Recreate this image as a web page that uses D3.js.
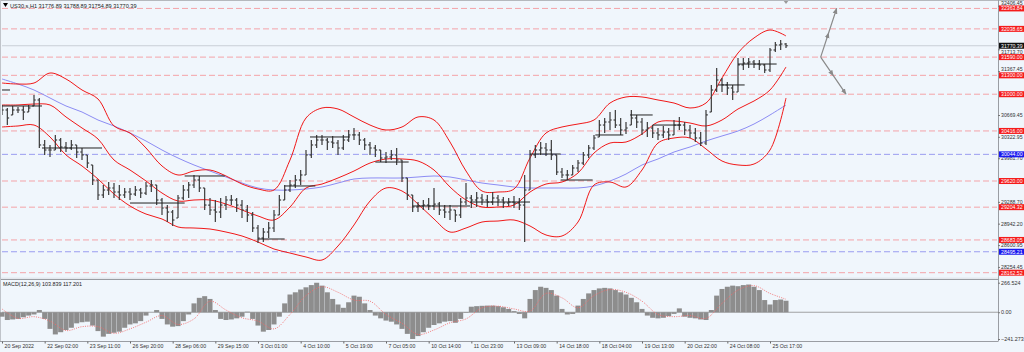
<!DOCTYPE html>
<html>
<head>
<meta charset="utf-8">
<script src="https://cdn.jsdelivr.net/npm/d3@7"></script>
<style>
body { margin: 0; background: #f0f6fc; }
svg { display: block; font-family: "Liberation Sans", Arial, sans-serif; }
</style>
</head>
<body>
<div id="chart"></div>
<script>
// US30 H1 bars, one sample every 4 bars
const highs = [
30829,30781,30813,30797,30813,30829,30988,30940,30272,30193,
30352,30304,30240,30272,30193,30145,30034,29875,29636,29557,
29604,29588,29557,29509,29509,29541,29509,29604,29636,29557,
29350,29238,29159,29398,29557,29604,29716,29700,29509,29350,
29318,29350,29382,29398,29350,29318,29238,29127,28921,28873,
28968,29159,29398,29557,29636,29716,29795,30113,30272,30352,
30352,30304,30336,30272,30352,30431,30463,30399,30304,30240,
30193,30113,30081,30113,30145,29954,29668,29398,29286,29318,
29350,29509,29286,29238,29238,29159,29350,29588,29398,29445,
29413,29398,29445,29398,29366,29350,29382,29350,29716,30113,
30193,30240,30224,30272,30034,29827,29795,29875,29954,30081,
30193,30352,30590,30622,30717,30749,30622,30558,30749,30670,
30622,30558,30510,30463,30495,30463,30590,30638,30558,30510,
30463,30399,30749,31147,31417,31258,31194,31147,31576,31576,
31576,31544,31544,31480,31735,31830,31862,31814];
const lows = [
30670,30510,30670,30701,30590,30717,30813,30145,30034,30002,
30113,30081,30081,30113,29986,29954,29827,29557,29318,29350,
29398,29350,29318,29350,29318,29382,29350,29398,29445,29238,
29080,28968,28905,29032,29318,29350,29509,29445,29159,29080,
28968,29032,29159,29238,29127,29032,28968,28809,28634,28650,
28714,28809,29080,29318,29445,29509,29557,29716,29986,30145,
30193,30113,30145,30034,30113,30240,30272,30193,30113,30034,
30002,29922,29906,29954,29875,29604,29318,29127,29127,29159,
29159,29159,29080,29032,29000,28968,29032,29238,29191,29207,
29238,29207,29238,29223,29191,29223,29191,29159,28650,29477,
29986,30034,30018,29954,29716,29668,29636,29716,29763,29875,
29986,30113,30320,30383,30431,30463,30352,30367,30510,30463,
30352,30320,30304,30272,30304,30272,30352,30431,30352,30304,
30240,30177,30193,30717,31035,31035,30988,30908,31035,31385,
31417,31417,31385,31337,31353,31671,31703,31735];
const closes = [
30749,30622,30749,30749,30717,30781,30908,30193,30113,30113,
30272,30161,30145,30193,30081,30034,29906,29636,29398,29477,
29509,29445,29398,29445,29413,29477,29429,29541,29557,29318,
29191,29127,29000,29350,29477,29557,29636,29509,29238,29159,
29127,29238,29318,29318,29238,29159,29080,28873,28714,28809,
28873,29080,29318,29477,29557,29636,29716,30034,30193,30272,
30272,30240,30224,30145,30272,30352,30352,30272,30193,30145,
30113,29986,30002,30034,29954,29668,29398,29207,29223,29238,
29223,29254,29159,29127,29159,29080,29286,29350,29318,29350,
29318,29286,29350,29318,29270,29286,29270,29238,29477,30034,
30113,30145,30113,30034,29763,29716,29716,29827,29906,30034,
30145,30304,30510,30558,30590,30510,30431,30463,30622,30558,
30431,30463,30383,30352,30399,30352,30510,30510,30431,30383,
30304,30224,30670,31067,31226,31147,31099,31035,31465,31496,
31512,31480,31465,31385,31703,31783,31798,31770.39];

// indicator lines, one sample every 12 bars
const bandUpper = [
31178,31162,31178,31337,31242,31067,30924,30495,30383,30145,
29859,29716,29779,29795,29700,29572,29493,29477,29954,30622,
30781,30765,30638,30510,30431,30479,30638,30590,30240,29779,
29461,29445,29493,29986,30383,30479,30526,30590,30860,30956,
30956,30908,30860,30781,30860,31258,31655,31894,32021,31926];
const bandMiddle = [
30829,30829,30844,30829,30638,30463,30288,29954,29795,29620,
29429,29302,29318,29318,29254,29159,29064,29000,29207,29509,
29572,29668,29779,29906,29970,29970,29938,29795,29525,29318,
29207,29207,29238,29445,29572,29604,29747,30065,30224,30240,
30367,30558,30574,30542,30495,30590,30765,30892,31067,31433];
const bandLower = [
30479,30495,30510,30320,30034,29859,29652,29413,29223,29095,
29016,28889,28873,28857,28809,28746,28650,28539,28475,28412,
28364,28587,28921,29302,29509,29461,29254,29016,28809,28873,
28968,28984,29000,28905,28762,28746,28968,29557,29604,29525,
29795,30224,30304,30304,30129,29938,29875,29890,30113,30940];
const maBlue = [
31242,31162,31067,30940,30813,30717,30590,30495,30383,30256,
30113,29986,29875,29779,29684,29588,29509,29477,29477,29493,
29525,29588,29652,29668,29668,29668,29684,29700,29684,29636,
29588,29557,29525,29509,29509,29509,29509,29541,29620,29731,
29875,29970,30081,30161,30256,30336,30415,30526,30670,30829];

const macdHist = [
-40,-70,-65,-60,-45,-30,-20,20,-60,-150,
-200,-180,-160,-140,-100,-90,-85,-120,-170,-220,
-195,-185,-175,-140,-110,-100,-80,-30,0,20,
-60,-110,-130,-125,-80,-20,80,130,145,120,
20,-60,-70,-65,-55,-40,5,-60,-120,-175,
-160,-110,-40,80,160,180,205,225,245,266,
240,180,120,70,40,90,150,140,80,20,
-30,-55,-75,-85,-110,-150,-195,-241,-215,-180,
-140,-115,-100,-85,-80,-95,-60,-5,50,55,
58,60,60,55,45,30,10,-15,-55,120,
200,230,220,200,150,30,-20,-15,60,120,
170,200,215,220,215,200,180,160,130,90,
30,-30,-50,-55,-50,-35,-15,35,-40,-50,
-55,-65,-70,20,150,210,230,240,235,245,
250,230,200,110,70,110,115,103.839];
const macdSignal = [
30,-55,-40,-80,-165,-130,-130,-190,-150,-90,
-30,-110,-60,100,20,-50,-80,-150,-20,150,
230,180,110,100,-20,-100,-200,-160,-95,-60,
40,55,30,10,170,130,40,150,205,180,
100,-20,-40,-30,-55,80,200,240,170,117.201];

const timeLabels = ["20 Sep 2022","22 Sep 02:00","23 Sep 11:00","26 Sep 20:00","28 Sep 06:00",
  "29 Sep 15:00","3 Oct 01:00","4 Oct 10:00","5 Oct 19:00","7 Oct 05:00","10 Oct 14:00",
  "11 Oct 23:00","13 Oct 09:00","14 Oct 18:00","18 Oct 04:00","19 Oct 13:00","20 Oct 22:00",
  "24 Oct 08:00","25 Oct 17:00"];

// grid labels that are not covered by a price tag
const gridPrices = [32406.45,31713.70,31367.45,30669.45,30322.95,29981.70,
  29288.70,28942.20,28600.95,28254.45];
const redLevels = [32363.84,32038.65,31590.00,31300.00,31000.00,30416.00,29620.00,29204.32,28683.05,28162.52];
const blueLevels = [30044.00,28495.21];
const lastPrice = 31770.39;

// short black level segments: start bar, end bar, price
const segments = [[0,6,31067],[0,30,30813],[30,75,30145],[96,137,29270],[137,167,29700],
  [192,212,28698],[212,235,29541],[231,261,30320],[280,305,29922],[308,351,29223],
  [351,396,29286],[396,419,30049],[419,443,29636],[445,466,30352],[471,488,30670],
  [488,509,30510],[537,557,31147],[552,581,31480]];

// projected path: bar, price
const arrowUp = [[614,31590],[626,32363.84]];
const arrowDown = [[614,31590],[633,31000]];

const W = 1024, H = 352;
const left = 2, right = 997, mainTop = 2, mainBottom = 277, macdTop = 280, macdBottom = 341;

const svg = d3.select("#chart").append("svg")
  .attr("width", W).attr("height", H)
  .attr("viewBox", [0, 0, W, H]);

svg.append("rect").attr("width", W).attr("height", H).attr("fill", "#f0f6fc");

const x = d3.scaleLinear().domain([0, 747]).range([left, 998]);
const y = d3.scaleLinear().domain([28094, 32466]).range([mainBottom, mainTop]);
const ym = d3.scaleLinear().domain([-241.273, 266.524]).range([339, 282.7]);

const defs = svg.append("defs");
defs.append("clipPath").attr("id", "clipMain").append("rect")
  .attr("x", left).attr("y", 0).attr("width", right - left).attr("height", mainBottom);
defs.append("marker").attr("id", "arr").attr("viewBox", "0 0 10 10")
  .attr("refX", 9).attr("refY", 5).attr("markerWidth", 5).attr("markerHeight", 5)
  .attr("orient", "auto")
  .append("path").attr("d", "M0,1L10,5L0,9Z").attr("fill", "#8a8a8a");

const main = svg.append("g").attr("clip-path", "url(#clipMain)");

// level lines
main.append("line")
  .attr("x1", left).attr("x2", right).attr("y1", y(lastPrice)).attr("y2", y(lastPrice))
  .attr("stroke", "#c9ced6").attr("stroke-width", 1);

main.selectAll(".red-level").data(redLevels).join("line")
  .attr("x1", left).attr("x2", right)
  .attr("y1", d => y(d)).attr("y2", d => y(d))
  .attr("stroke", "#f4a3a8").attr("stroke-width", 1).attr("stroke-dasharray", "6,3");
main.selectAll(".blue-level").data(blueLevels).join("line")
  .attr("x1", left).attr("x2", right)
  .attr("y1", d => y(d)).attr("y2", d => y(d))
  .attr("stroke", "#9a9cf0").attr("stroke-width", 1).attr("stroke-dasharray", "6,3");

// indicators
const bandLine = d3.line().x((d, k) => x(12 * k)).y(d => y(d)).curve(d3.curveCatmullRom);
main.append("path").attr("d", bandLine(maBlue))
  .attr("fill", "none").attr("stroke", "#8c8cf4").attr("stroke-width", 1);
[bandUpper, bandMiddle, bandLower].forEach(b => {
  main.append("path").attr("d", bandLine(b))
    .attr("fill", "none").attr("stroke", "#f01818").attr("stroke-width", 1);
});

// price bars (open tick at the previous close)
const bars = main.append("g").attr("stroke", "#3a3a3a").attr("stroke-width", 1.2);
highs.forEach((h, i) => {
  const bx = x(4 * i);
  bars.append("line").attr("x1", bx).attr("x2", bx).attr("y1", y(h)).attr("y2", y(lows[i]));
  bars.append("line").attr("x1", bx).attr("x2", bx + 1.8).attr("y1", y(closes[i])).attr("y2", y(closes[i]));
  if (i > 0) {
    const o = Math.min(Math.max(closes[i - 1], lows[i]), h);
    bars.append("line").attr("x1", bx - 1.8).attr("x2", bx).attr("y1", y(o)).attr("y2", y(o));
  }
});

main.selectAll(".seg").data(segments).join("line")
  .attr("x1", d => x(d[0])).attr("x2", d => x(d[1]))
  .attr("y1", d => y(d[2])).attr("y2", d => y(d[2]))
  .attr("stroke", "#222").attr("stroke-width", 1);

// projection arrows with a mid arrowhead
[arrowUp, arrowDown].forEach(a => {
  const p0 = [x(a[0][0]), y(a[0][1])], p1 = [x(a[1][0]), y(a[1][1])];
  const mid = [(p0[0] + p1[0]) / 2, (p0[1] + p1[1]) / 2];
  svg.append("polyline").attr("points", [p0, mid, p1].map(p => p.join(",")).join(" "))
    .attr("fill", "none").attr("stroke", "#8a8a8a").attr("stroke-width", 1.2)
    .attr("marker-mid", "url(#arr)").attr("marker-end", "url(#arr)");
});

// shift marker
const sx = x(588);
svg.append("path").attr("d", `M${sx - 3},0L${sx + 3},0L${sx},4Z`).attr("fill", "#9a9a9a");

// title
svg.append("path").attr("d", "M3,3L8,3L5.5,7Z").attr("fill", "#000");
svg.append("text").attr("x", 10).attr("y", 7.5).attr("font-size", 5.6).attr("fill", "#222")
  .text("US30.s,H1  31776.89 31788.89 31754.89 31770.39");

// pane frames
svg.append("line").attr("x1", 0).attr("x2", W).attr("y1", 0.5).attr("y2", 0.5).attr("stroke", "#b5b8bd");
svg.append("rect").attr("x", 0).attr("y", mainBottom + 0.5).attr("width", 998).attr("height", 2)
  .attr("fill", "#e4e8ee");
svg.append("line").attr("x1", 0).attr("x2", 998).attr("y1", macdTop - 0.5).attr("y2", macdTop - 0.5)
  .attr("stroke", "#9a9da3");
svg.append("line").attr("x1", 998.5).attr("x2", 998.5).attr("y1", 0).attr("y2", macdBottom)
  .attr("stroke", "#9a9da3");
svg.append("line").attr("x1", 0).attr("x2", 998.5).attr("y1", macdBottom + 0.5).attr("y2", macdBottom + 0.5)
  .attr("stroke", "#9a9da3");
svg.append("line").attr("x1", 0.5).attr("x2", 0.5).attr("y1", 0).attr("y2", macdBottom)
  .attr("stroke", "#c0c4ca");

// price axis
const yAxis = svg.append("g").attr("transform", "translate(998,0)")
  .call(d3.axisRight(y).tickValues(gridPrices).tickFormat(d3.format(".2f")).tickSize(2));
yAxis.select(".domain").remove();
yAxis.selectAll("line").attr("stroke", "#777");
yAxis.selectAll("text").attr("font-size", 5.2).attr("fill", "#333").attr("x", 3)
  .attr("font-family", "Liberation Sans, Arial, sans-serif");
// labels just beside a tag sit a little away from it
yAxis.selectAll(".tick").filter(d => d === 32406.45 || d === 31367.45).select("text").attr("dy", "-0.15em");
yAxis.selectAll(".tick").filter(d => d === 31713.70).select("text").attr("dy", "0.75em");

function priceTag(v, bg) {
  const g = svg.append("g").attr("transform", `translate(998,${y(v)})`);
  g.append("rect").attr("x", 1).attr("y", -3).attr("width", 25).attr("height", 6).attr("fill", bg);
  g.append("text").attr("x", 3).attr("y", 1.9).attr("font-size", 5.2).attr("fill", "#fff")
    .text(d3.format(".2f")(v));
}
redLevels.forEach(v => priceTag(v, "#f51b1b"));
blueLevels.forEach(v => priceTag(v, "#1a1aef"));
priceTag(lastPrice, "#111");

// MACD pane
const barW = x(4) - x(0);
svg.append("g").selectAll("rect").data(macdHist).join("rect")
  .attr("x", (d, i) => x(4 * i) - barW / 2 + 0.15)
  .attr("width", barW - 0.3)
  .attr("y", d => Math.min(ym(d), ym(0)))
  .attr("height", d => Math.abs(ym(d) - ym(0)))
  .attr("fill", "#8d8d8d");
svg.append("line").attr("x1", left).attr("x2", 998).attr("y1", ym(0)).attr("y2", ym(0))
  .attr("stroke", "#8a8a8a").attr("stroke-width", 0.8);
svg.append("path")
  .attr("d", d3.line().x((d, k) => x(12 * k)).y(d => ym(d)).curve(d3.curveCatmullRom)(macdSignal))
  .attr("fill", "none").attr("stroke", "#f36a6a").attr("stroke-width", 0.9)
  .attr("stroke-dasharray", "1,1.3");
svg.append("text").attr("x", 3).attr("y", 286).attr("font-size", 5.4).attr("fill", "#222")
  .text("MACD(12,26,9) 103.839 117.201");

const macdAxis = svg.append("g").attr("transform", "translate(998,0)")
  .call(d3.axisRight(ym).tickValues([266.524, 0, -241.273])
    .tickFormat(d => d === 0 ? "0.00" : d3.format(".3f")(d)).tickSize(2));
macdAxis.select(".domain").remove();
macdAxis.selectAll("line").attr("stroke", "#777");
macdAxis.selectAll("text").attr("font-size", 5.4).attr("fill", "#333").attr("x", 3)
  .attr("font-family", "Liberation Sans, Arial, sans-serif");

// time axis
const tAxis = svg.append("g").attr("transform", `translate(0,${macdBottom + 0.5})`)
  .call(d3.axisBottom(x).tickValues(timeLabels.map((d, j) => 32 * j))
    .tickFormat((d, j) => timeLabels[j]).tickSize(2));
tAxis.select(".domain").remove();
tAxis.selectAll("line").attr("stroke", "#666");
tAxis.selectAll("text").attr("text-anchor", "start").attr("dx", 2).attr("y", 3)
  .attr("font-size", 5.2).attr("fill", "#333")
  .attr("font-family", "Liberation Sans, Arial, sans-serif");
</script>
</body>
</html>
